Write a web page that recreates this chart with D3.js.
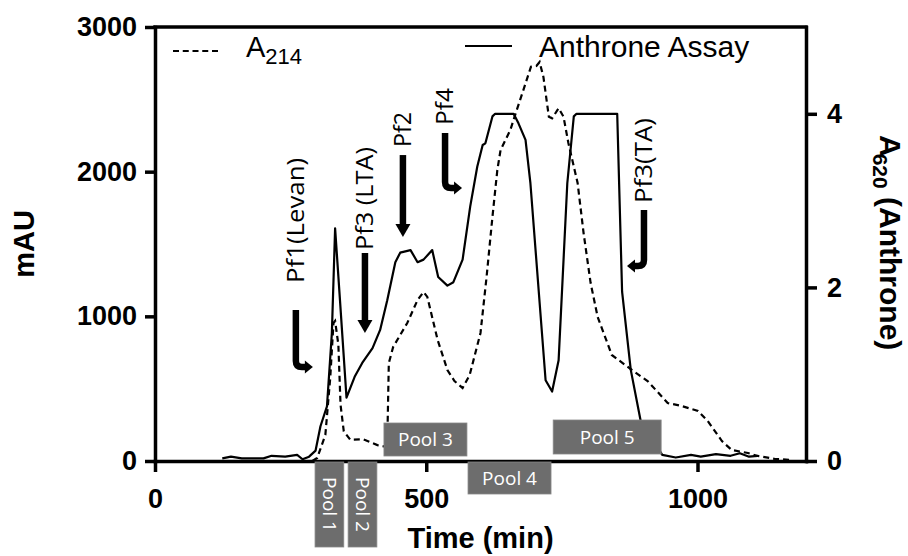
<!DOCTYPE html>
<html>
<head>
<meta charset="utf-8">
<script src="https://cdn.jsdelivr.net/npm/d3@7"></script>
<style>
  body { margin: 0; background: #fff; }
  svg { display: block; }
</style>
</head>
<body>
<svg id="chart" width="908" height="556"></svg>
<script>
// A214 trace, mAU (left axis)
const a214Time = [290, 299, 314, 323, 329, 332, 338, 342, 348, 360, 384, 410, 428, 431, 439, 465, 484, 495, 502, 521, 539, 552, 567, 580, 600, 611, 622, 631, 637, 655, 665, 679, 693, 703, 709, 716, 726, 732, 744, 753, 762, 779, 790, 803, 816, 842, 879, 908, 945, 971, 1001, 1019, 1045, 1063, 1093, 1111, 1143, 1174];
const a214Value = [0, 21, 180, 574, 954, 968, 804, 389, 205, 147, 150, 110, 97, 677, 788, 954, 1113, 1168, 1134, 836, 629, 553, 505, 594, 885, 1265, 1687, 2011, 2150, 2288, 2405, 2564, 2725, 2730, 2758, 2654, 2380, 2369, 2438, 2380, 2198, 1922, 1576, 1230, 995, 733, 629, 553, 401, 380, 346, 276, 138, 76, 55, 35, 14, 7];

// anthrone assay, A620 (right axis)
const anthTime = [124, 140, 160, 200, 215, 240, 262, 272, 284, 296, 305, 317, 326, 332, 341, 353, 368, 382, 401, 415, 428, 443, 452, 471, 484, 495, 511, 522, 539, 550, 567, 581, 594, 604, 609, 622, 627, 661, 670, 683, 692, 720, 732, 744, 760, 772, 777, 852, 861, 877, 895, 935, 960, 988, 1006, 1034, 1061, 1078, 1095, 1111];
const anthValue = [0.03, 0.05, 0.03, 0.03, 0.06, 0.05, 0.07, 0.02, 0.05, 0.12, 0.40, 0.63, 1.47, 2.68, 1.85, 0.73, 0.97, 1.13, 1.30, 1.51, 1.85, 2.29, 2.40, 2.43, 2.29, 2.32, 2.43, 2.12, 2.02, 2.06, 2.32, 2.93, 3.39, 3.64, 3.66, 3.97, 4.0, 4.0, 3.89, 3.70, 3.20, 0.93, 0.80, 1.16, 3.20, 3.97, 4.0, 4.0, 1.95, 1.05, 0.47, 0.07, 0.04, 0.07, 0.05, 0.08, 0.06, 0.09, 0.05, 0.06];

const xTicks = [0, 500, 1000];
const yLeftTicks = [0, 1000, 2000, 3000];
const yRightTicks = [0, 2, 4];

// collected pools (min)
const poolNames = ['Pool 1', 'Pool 2', 'Pool 3', 'Pool 4', 'Pool 5'];
const poolStart = [295, 356, 422, 577, 734];
const poolEnd = [348, 409, 575, 730, 933];

// peak annotations: arrow tip in (min, mAU)
const peakLabels = ['Pf1(Levan)', 'Pf3 (LTA)', 'Pf2', 'Pf4', 'Pf3(TA)'];
const peakTime = [291, 387, 457, 566, 870];
const peakLevel = [650, 885, 1548, 1887, 1348];

const svg = d3.select('#chart');
const plotLeft = 155, plotRight = 806, plotTop = 27, plotBottom = 461;

const x = d3.scaleLinear().domain([0, 1200]).range([plotLeft, plotRight]);
const yL = d3.scaleLinear().domain([0, 3000]).range([plotBottom, plotTop]);
const yR = d3.scaleLinear().domain([0, 5]).range([plotBottom, plotTop]);

const tickFont = '"Liberation Sans", Arial, sans-serif';
const labelFont = '"Open Sans", "Noto Sans", sans-serif';
const plain = d3.format('d');

function styleAxis(g) {
  g.attr('font-family', tickFont).attr('font-size', 27).attr('font-weight', 'bold');
  g.select('.domain').attr('stroke', '#000').attr('stroke-width', 3.5).attr('stroke-linecap', 'square');
  g.selectAll('.tick line').attr('stroke', '#000').attr('stroke-width', 3.5);
  g.selectAll('.tick text').attr('fill', '#000');
}

// top frame line
svg.append('line')
  .attr('x1', plotLeft).attr('x2', plotRight)
  .attr('y1', plotTop).attr('y2', plotTop)
  .attr('stroke', '#000').attr('stroke-width', 3.5).attr('stroke-linecap', 'square');

svg.append('g').attr('transform', `translate(0,${plotBottom})`)
  .call(d3.axisBottom(x).tickValues(xTicks).tickFormat(plain).tickSize(11).tickSizeOuter(0).tickPadding(17))
  .call(styleAxis);

svg.append('g').attr('transform', `translate(${plotLeft},0)`)
  .call(d3.axisLeft(yL).tickValues(yLeftTicks).tickFormat(plain).tickSize(10).tickSizeOuter(0).tickPadding(8))
  .call(styleAxis);

svg.append('g').attr('transform', `translate(${plotRight},0)`)
  .call(d3.axisRight(yR).tickValues(yRightTicks).tickFormat(plain).tickSize(11).tickSizeOuter(0).tickPadding(10))
  .call(styleAxis);

// traces
const a214 = a214Time.map((t, i) => [t, a214Value[i]]);
const anth = anthTime.map((t, i) => [t, anthValue[i]]);

svg.append('path')
  .datum(a214)
  .attr('d', d3.line().x(d => x(d[0])).y(d => yL(d[1])))
  .attr('fill', 'none').attr('stroke', '#000').attr('stroke-width', 2.2)
  .attr('stroke-dasharray', '6,4');

svg.append('path')
  .datum(anth)
  .attr('d', d3.line().x(d => x(d[0])).y(d => yR(d[1])))
  .attr('fill', 'none').attr('stroke', '#000').attr('stroke-width', 2.2)
  .attr('stroke-linejoin', 'round');

// pool boxes
const poolLayout = [
  { y: 462, h: 85, rot: true },
  { y: 462, h: 85, rot: true },
  { y: 423, h: 33, rot: false },
  { y: 462, h: 32, rot: false },
  { y: 420, h: 34, rot: false }
];
poolNames.forEach((name, i) => {
  const lay = poolLayout[i];
  const x0 = x(poolStart[i]), x1 = x(poolEnd[i]);
  svg.append('rect')
    .attr('x', x0).attr('y', lay.y)
    .attr('width', x1 - x0).attr('height', lay.h)
    .attr('fill', '#6d6d6d').attr('stroke', '#888').attr('stroke-width', 0.8);
  const cx = (x0 + x1) / 2, cy = lay.y + lay.h / 2;
  svg.append('text')
    .attr('transform', `translate(${cx},${cy})` + (lay.rot ? ' rotate(90)' : ''))
    .attr('text-anchor', 'middle').attr('dy', '0.36em')
    .attr('font-family', labelFont).attr('font-size', 19)
    .attr('fill', '#fff')
    .text(name);
});

// peak arrows and labels
const arrowKind = ['hookRight', 'down', 'down', 'hookRight', 'hookLeft'];
const stemLen = [57, 80, 82, 55, 56];
const labelGap = [27, 3, 8, 8, 7];
const labelLen = [125, 103, 35, 37, 85];

peakLabels.forEach((lab, i) => {
  const tx = x(peakTime[i]), ty = yL(peakLevel[i]);
  const kind = arrowKind[i];
  let sx, topY;
  const g = svg.append('g');
  if (kind === 'down') {
    sx = tx; topY = ty - stemLen[i];
    g.append('line')
      .attr('x1', sx).attr('x2', sx).attr('y1', topY).attr('y2', ty - 10)
      .attr('stroke', '#000').attr('stroke-width', 6.5);
    g.append('path')
      .attr('d', `M${tx},${ty} L${tx - 7.5},${ty - 13} L${tx + 7.5},${ty - 13} Z`)
      .attr('fill', '#000');
  } else {
    const dir = kind === 'hookRight' ? 1 : -1;
    sx = tx - dir * 17; topY = ty - stemLen[i];
    const r = 6;
    g.append('path')
      .attr('d', `M${sx},${topY} V${ty - r} Q${sx},${ty} ${sx + dir * r},${ty} H${tx - dir * 6}`)
      .attr('fill', 'none').attr('stroke', '#000').attr('stroke-width', 6.5);
    g.append('path')
      .attr('d', `M${tx},${ty} L${tx - dir * 8},${ty - 6.5} L${tx - dir * 8},${ty + 6.5} Z`)
      .attr('fill', '#000');
  }
  svg.append('text')
    .attr('transform', `translate(${sx + 8},${topY - labelGap[i]}) rotate(-90)`)
    .attr('font-family', labelFont).attr('font-size', 24)
    .attr('textLength', labelLen[i]).attr('lengthAdjust', 'spacingAndGlyphs')
    .attr('fill', '#000')
    .text(lab);
});

// legend
svg.append('line')
  .attr('x1', 173).attr('x2', 218).attr('y1', 51).attr('y2', 51)
  .attr('stroke', '#000').attr('stroke-width', 2).attr('stroke-dasharray', '6,3.75');
const legA = svg.append('text')
  .attr('x', 246).attr('y', 57)
  .attr('font-family', tickFont).attr('font-size', 29);
legA.append('tspan').text('A');
legA.append('tspan').attr('font-size', 22).attr('dy', 7).text('214');

svg.append('line')
  .attr('x1', 465).attr('x2', 512).attr('y1', 46).attr('y2', 46)
  .attr('stroke', '#000').attr('stroke-width', 2);
svg.append('text')
  .attr('x', 539).attr('y', 57)
  .attr('font-family', tickFont).attr('font-size', 30)
  .text('Anthrone Assay');

// axis titles
svg.append('text')
  .attr('x', (plotLeft + plotRight) / 2).attr('y', 548)
  .attr('text-anchor', 'middle')
  .attr('font-family', tickFont).attr('font-size', 29).attr('font-weight', 'bold')
  .text('Time (min)');

svg.append('text')
  .attr('transform', `translate(34,${(plotTop + plotBottom) / 2}) rotate(-90)`)
  .attr('text-anchor', 'middle')
  .attr('font-family', tickFont).attr('font-size', 29).attr('font-weight', 'bold')
  .text('mAU');

const rTitle = svg.append('text')
  .attr('transform', `translate(880,135) rotate(90)`)
  .attr('font-family', tickFont).attr('font-size', 30).attr('font-weight', 'bold');
rTitle.append('tspan').text('A');
rTitle.append('tspan').attr('font-size', 21).attr('dy', 7).attr('dx', -3).text('620');
rTitle.append('tspan').attr('dy', -7).text(' (Anthrone)');
</script>
</body>
</html>
